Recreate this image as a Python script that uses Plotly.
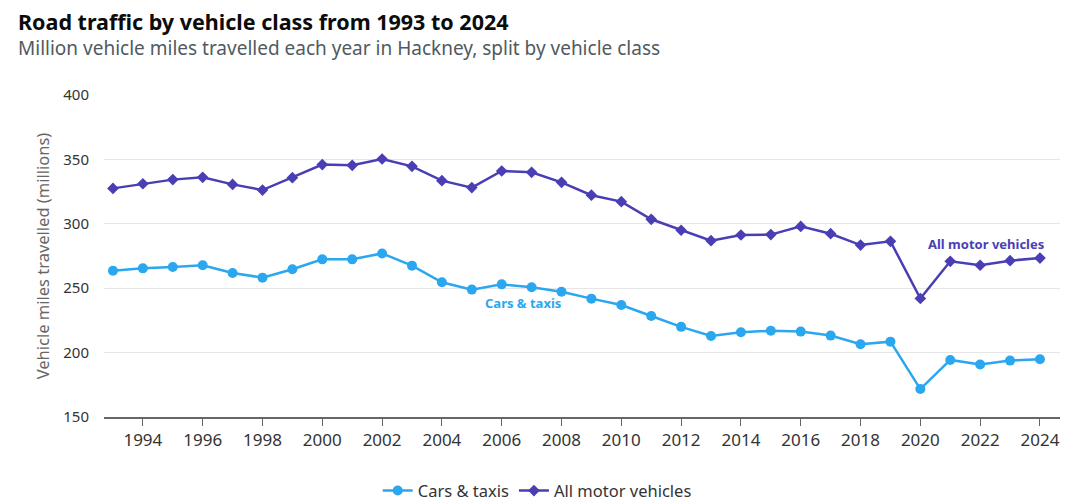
import plotly.graph_objects as go

years = list(range(1993, 2025))

# million vehicle miles
cars_taxis = [263.6, 265.4, 266.5, 267.8, 261.8, 258.2, 264.7, 272.4, 272.4, 277.0,
              267.5, 254.6, 248.9, 253.0, 250.7, 247.2, 241.9, 236.9, 228.4, 220.0,
              212.9, 215.8, 217.0, 216.3, 213.2, 206.5, 208.5, 171.7, 194.3, 190.7,
              193.8, 194.8]
all_motor = [327.5, 331.1, 334.3, 336.1, 330.6, 326.2, 335.8, 346.0, 345.4, 350.3,
             344.6, 333.5, 328.1, 341.0, 340.0, 332.2, 322.2, 317.2, 303.5, 295.0,
             286.9, 291.3, 291.6, 298.0, 292.3, 283.5, 286.4, 242.0, 270.9, 267.8,
             271.4, 273.4]

x_ticks = list(range(1994, 2025, 2))
y_ticks = [150, 200, 250, 300, 350, 400]

blue = "#2ba7f0"
purple = "#4a3eb5"
font = "Noto Sans"

fig = go.Figure()
fig.add_trace(go.Scatter(x=years, y=cars_taxis, name="Cars & taxis", mode="lines+markers",
                         line=dict(color=blue, width=2.5),
                         marker=dict(symbol="circle", size=10, color=blue)))
fig.add_trace(go.Scatter(x=years, y=all_motor, name="All motor vehicles", mode="lines+markers",
                         line=dict(color=purple, width=2.5),
                         marker=dict(symbol="diamond", size=9, color=purple)))

# inline series labels
fig.add_annotation(x=2008.05, y=238.5, text="<b>Cars & taxis</b>", showarrow=False,
                   font=dict(family=font, size=13, color=blue), xanchor="right", yanchor="middle")
fig.add_annotation(x=2020.2, y=284, text="<b>All motor vehicles</b>", showarrow=False,
                   font=dict(family=font, size=13, color=purple), xanchor="left", yanchor="middle")

# title + subtitle
fig.add_annotation(xref="paper", yref="paper", x=-0.092, y=1.228, xanchor="left", yanchor="middle",
                   text="<b>Road traffic by vehicle class from 1993 to 2024</b>", showarrow=False,
                   font=dict(family=font, size=21.5, color="#0b0c0c"))
fig.add_annotation(xref="paper", yref="paper", x=-0.092, y=1.146, xanchor="left", yanchor="middle",
                   text="Million vehicle miles travelled each year in Hackney, split by vehicle class",
                   showarrow=False, font=dict(family=font, size=19, color="#505a5f"))

# page body has an 8px margin, so the figure margins are trimmed to land the plot where the reference has it
fig.update_layout(
    width=1080, height=504,
    margin=dict(l=96, r=28, t=87, b=95),
    paper_bgcolor="white", plot_bgcolor="white",
    font=dict(family=font, size=14, color="#333333"),
    showlegend=True,
    legend=dict(orientation="h", xref="container", yref="container",
                x=0.49, xanchor="center", y=0.042, yanchor="middle",
                font=dict(size=16.5, color="#333333")),
)
fig.update_xaxes(range=[1992.7, 2024.67], tickvals=x_ticks, ticks="outside", ticklen=7,
                 tickcolor="#666666", showline=True, linecolor="#666666", linewidth=1.5,
                 showgrid=False, zeroline=False, automargin=False,
                 tickfont=dict(size=17, color="#333333"))
fig.update_yaxes(range=[150, 400], tickvals=y_ticks, showgrid=True, gridcolor="#e6e6e6",
                 zeroline=False, ticks="", ticklabelstandoff=14, automargin=False,
                 title=dict(text="Vehicle miles travelled (millions)", standoff=9,
                            font=dict(size=16.5, color="#666666")),
                 tickfont=dict(size=15, color="#333333"))

fig.write_html("out.html")
